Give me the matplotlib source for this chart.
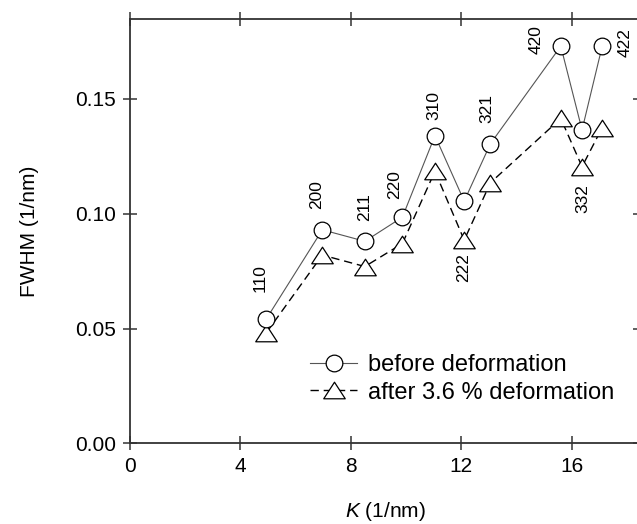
import numpy as np
import matplotlib
matplotlib.use('Agg')
import matplotlib.pyplot as plt
from matplotlib.path import Path

# данные
K = [4.93, 6.97, 8.51, 9.87, 11.05, 12.11, 13.06, 15.61, 16.38, 17.11]
fwhm_before = [0.054, 0.093, 0.088, 0.0985, 0.134, 0.1055, 0.1305, 0.173, 0.1365, 0.173]
fwhm_after = [0.048, 0.082, 0.077, 0.087, 0.1185, 0.0885, 0.1135, 0.1415, 0.1205, 0.1375]
hkl = ['110', '200', '211', '220', '310', '222', '321', '420', '332', '422']
x_ticks = [0, 4, 8, 12, 16]
y_ticks = [0.00, 0.05, 0.10, 0.15]

# смещения подписей hkl от точек (в пунктах)
label_offsets = [(-4.4, 29.5), (-4.4, 25.7), (0, 24.5), (-5.3, 23.3), (-0.6, 21.4),
                 (-0.6, -48), (-2.7, 25.4), (-18.1, 4.8), (0.9, -49.7), (16.5, 2.6)]

plt.rcParams['font.family'] = ['Liberation Sans', 'DejaVu Sans']
plt.rcParams['mathtext.fontset'] = 'custom'
plt.rcParams['mathtext.it'] = 'Liberation Sans:italic'
plt.rcParams['mathtext.rm'] = 'Liberation Sans'

# треугольник шире, чем выше
tri = Path([(0, 0.77), (-1, -0.77), (1, -0.77), (0, 0.77)],
           [Path.MOVETO, Path.LINETO, Path.LINETO, Path.CLOSEPOLY])

fig = plt.figure(figsize=(6.37, 5.24), dpi=100)
ax = fig.add_axes([130 / 637, 1 - 443.3 / 524, 510 / 637, 424 / 524])

ax.plot(K, fwhm_before, color='#555555', lw=0.8, ls='-',
        marker='o', ms=12, mfc='white', mec='black', mew=0.9,
        label='before deformation', zorder=3)
ax.plot(K, fwhm_after, color='black', lw=1.0, ls=(0, (6, 3.5)),
        marker=tri, ms=15.5, mfc='white', mec='black', mew=0.9,
        label='after 3.6 % deformation', zorder=2)

for k, v, t, off in zip(K, fwhm_before, hkl, label_offsets):
    ax.annotate(t, (k, v), xytext=off, textcoords='offset points',
                rotation=90, ha='center', va='center', fontsize=12.5)

ax.set_xlim(0, 18.48)
ax.set_ylim(0, 0.1847)
ax.set_xticks(x_ticks)
ax.set_yticks(y_ticks)
ax.set_xticklabels([str(t) for t in x_ticks])
ax.set_yticklabels(['%.2f' % t for t in y_ticks])

ax.tick_params(direction='inout', length=10, width=1.1, pad=5, labelsize=15,
               top=True, right=True, color='#333333')
for s in ax.spines.values():
    s.set_linewidth(1.3)
    s.set_color('#333333')

ax.set_xlabel('$K$ (1/nm)', fontsize=15)
ax.set_ylabel('FWHM (1/nm)', fontsize=15)
ax.xaxis.set_label_coords(0.5, -0.134)
ax.yaxis.set_label_coords(-0.178, 0.5)

ax.legend(loc='upper left', bbox_to_anchor=(0.353, 0.211), frameon=False,
          fontsize=17, borderpad=0, borderaxespad=0, handlelength=2.0,
          handletextpad=0.45, labelspacing=0.245)

fig.savefig('out.png', dpi=100)
